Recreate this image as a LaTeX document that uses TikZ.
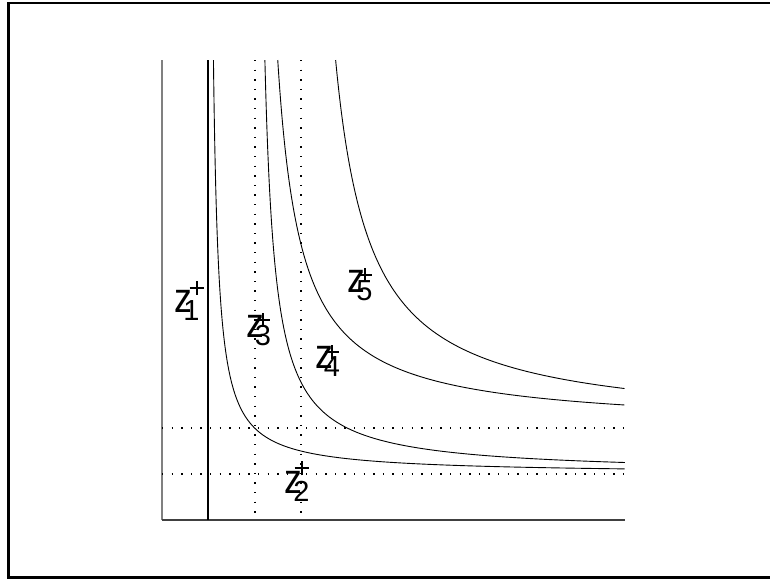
\documentclass[tikz,border=0pt]{standalone}
\usepackage{fontspec}
\setmainfont{Liberation Sans}
\usepackage{graphicx}
\newcommand{\zlab}[1]{{\fontsize{42}{42}\selectfont\scalebox{0.85}[1]{z}}\kern-8.9pt\raisebox{-8.5pt}{\fontsize{29}{29}\selectfont #1}}
\begin{document}
\begin{tikzpicture}[x=1pt,y=-1pt,
  frame/.style={line width=2.5pt,black},
  axisleft/.style={line width=1.6pt,black!50},
  axisbottom/.style={line width=1.6pt,black!75},
  solidline/.style={line width=1.3pt,black},
  dotline/.style={line width=1.4pt,black,dash pattern=on 1.4pt off 8.2pt},
  curve/.style={line width=0.9pt,black},
  plusline/.style={line width=1.7pt,black},
  zlabel/.style={anchor=base west,inner sep=0pt,outer sep=0pt}]
\useasboundingbox (0,0) rectangle (770,579);
\draw[frame] (8.6,3) rectangle (776,577.3);
% axes
\coordinate (o) at (162,520);
\coordinate (ytop) at (162,60);
\coordinate (xend) at (625,520);
\draw[axisleft] (ytop) -- (o);
\draw[axisbottom] (o) -- (xend);
% guide lines
\draw[solidline] (208,60) -- (208,520);
\draw[dotline] (255,60) -- (255,520);
\draw[dotline] (301,60) -- (301,520);
\draw[dotline] (162,428) -- (625,428);
\draw[dotline] (162,474) -- (625,474);
% hyperbolas
\begin{scope}[shift={(162pt,-520pt)},x=46.3pt,y=46pt]
\draw[curve] plot[domain=-2.1972:2.1972,samples=160,smooth,variable=\t] ({1+exp(\t)},{1+exp(-\t)});
\draw[curve] plot[domain=-1.8506:1.7329,samples=160,smooth,variable=\t] ({2+1.41421*exp(\t)},{1+1.41421*exp(-\t)});
\draw[curve] plot[domain=-1.3863:1.3863,samples=160,smooth,variable=\t] ({2+2*exp(\t)},{2+2*exp(-\t)});
\draw[curve] plot[domain=-1.1835:1.0500,samples=160,smooth,variable=\t] ({3+2.44949*exp(\t)},{2+2.44949*exp(-\t)});
\end{scope}
% points
\coordinate (p1) at (196.7,287.7);
\coordinate (p2) at (301.7,468.3);
\coordinate (p3) at (263.3,320);
\coordinate (p4) at (331.7,351.7);
\coordinate (p5) at (365,275);
\foreach \p in {p1,p2,p3,p4,p5}{
  \draw[plusline] ([xshift=-7pt]\p) -- ([xshift=7pt]\p);
  \draw[plusline] ([yshift=-7pt]\p) -- ([yshift=7pt]\p);
}
% labels
\node[zlabel] (l1) at (174.3,312) {\zlab{1}};
\node[zlabel] (l2) at (284.3,493) {\zlab{2}};
\node[zlabel] (l3) at (246,337) {\zlab{3}};
\node[zlabel] (l4) at (315,368) {\zlab{4}};
\node[zlabel] (l5) at (347.3,292) {\zlab{5}};
\end{tikzpicture}
\end{document}
